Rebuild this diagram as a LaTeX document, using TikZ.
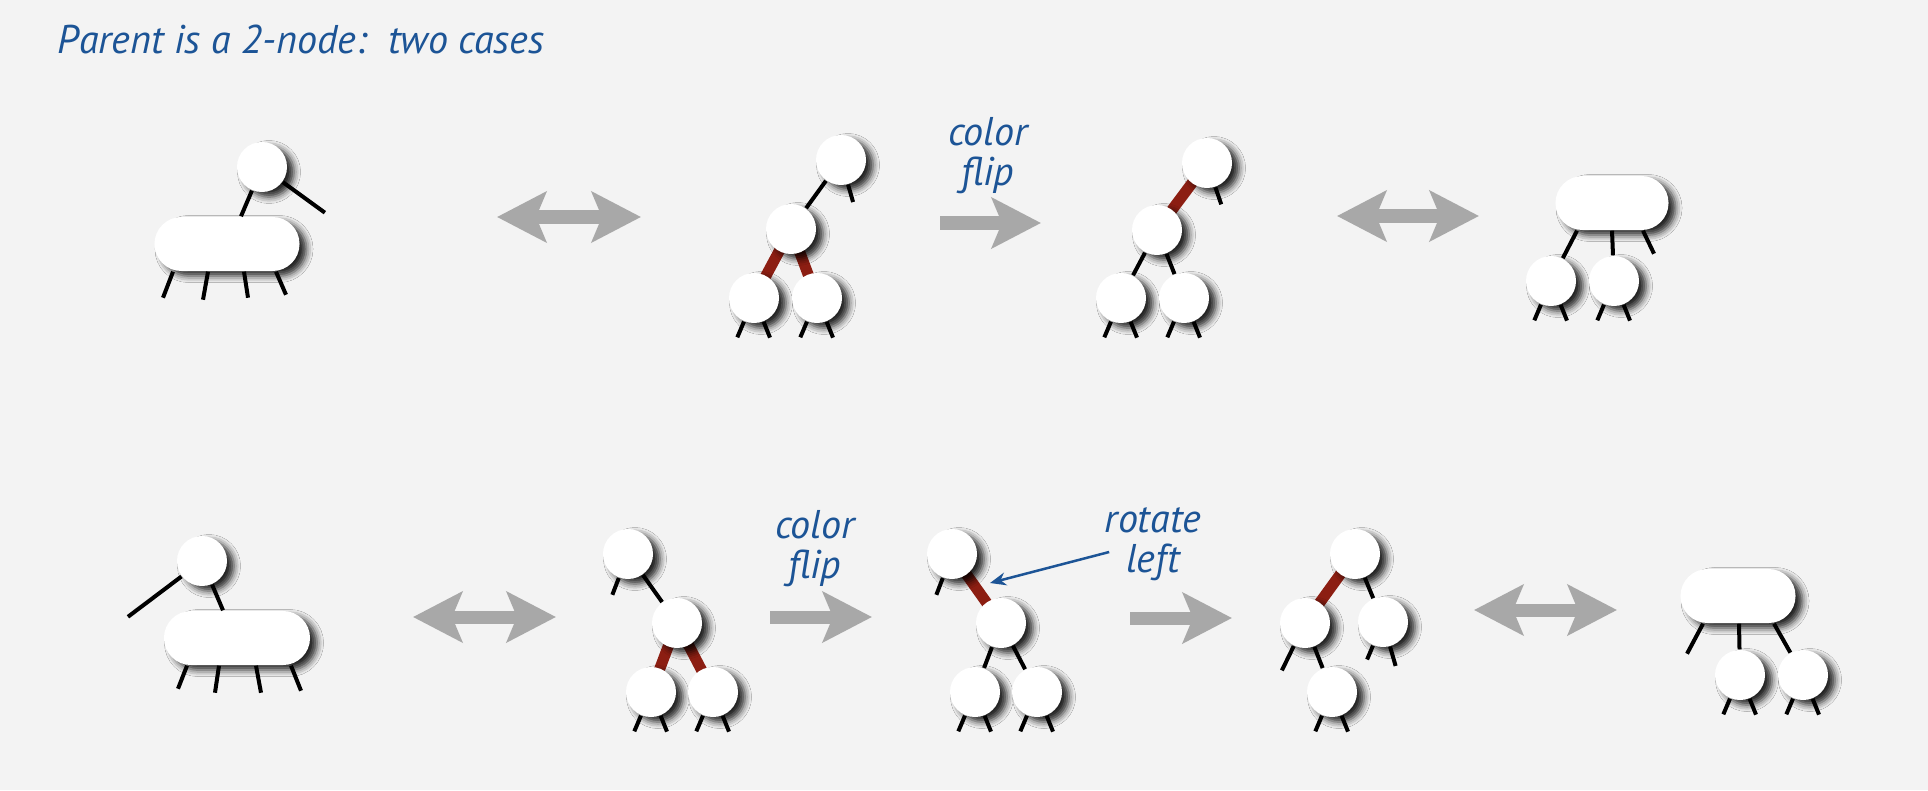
\documentclass[tikz,border=0pt]{standalone}
\usepackage{fontspec}
\setmainfont{PT Sans}
\usetikzlibrary{positioning,calc,arrows.meta,backgrounds,shadows.blur}
\definecolor{bgcol}{RGB}{243,243,243}
\definecolor{labelblue}{RGB}{28,84,150}
\definecolor{linkred}{RGB}{140,30,18}
\definecolor{flowgray}{RGB}{168,168,168}
\tikzset{
  softshadow/.style={blur shadow={shadow xshift=0.07cm, shadow yshift=-0.05cm, shadow blur radius=0.065cm, shadow opacity=85}},
  key/.style={shape=circle, fill=white, minimum size=0.5cm, inner sep=0pt, softshadow},
  pill/.style={shape=rectangle, rounded corners=0.27cm, fill=white, minimum height=0.54cm, inner sep=0pt, softshadow},
  leg/.style={line width=0.04cm, draw=black},
  redlink/.style={line width=0.11cm, draw=linkred},
  fliparrow/.style={line width=0.13cm, draw=flowgray, -{Stealth[length=0.49cm 0 0, width=0.5cm 0 0, inset=0.1cm 0 0]}},
  equivarrow/.style={line width=0.13cm, draw=flowgray, {Stealth[length=0.49cm 0 0, width=0.5cm 0 0, inset=0.1cm 0 0]}-{Stealth[length=0.49cm 0 0, width=0.5cm 0 0, inset=0.1cm 0 0]}},
  caption/.style={text=labelblue, font=\itshape\fontsize{11.4pt}{11.4pt}\selectfont, align=center, inner sep=0pt},
}
\begin{document}
\begin{tikzpicture}[x=0.01cm, y=0.01cm]
\useasboundingbox (0,0) rectangle (1928,790);
\node[caption, anchor=base west] (title) at (57,737) {Parent is a 2-node:\ \ two cases};

% first row
\node[key] (a1) at (262,623) {};
\node[pill, minimum width=1.45cm] (p1) at (227,546) {};
\node[key] (b1) at (841,630) {};
\node[key] (b2) at (791,561) {};
\node[key] (b3) at (754,492) {};
\node[key] (b4) at (817,492) {};
\node[key] (c1) at (1207,627) {};
\node[key] (c2) at (1157,560) {};
\node[key] (c3) at (1121,492) {};
\node[key] (c4) at (1184,492) {};
\node[pill, minimum width=1.13cm] (q1) at (1612,587) {};
\node[key] (d1) at (1551,509) {};
\node[key] (d2) at (1614,509) {};
\node[caption] (cf1) at (988,634) {color\\flip};

% second row
\node[key] (e1) at (202,229) {};
\node[pill, minimum width=1.46cm] (p2) at (237,152) {};
\node[key] (f1) at (628,236) {};
\node[key] (f2) at (677,167) {};
\node[key] (f3) at (651,98) {};
\node[key] (f4) at (713,98) {};
\node[key] (g1) at (952,236) {};
\node[key] (g2) at (1001,167) {};
\node[key] (g3) at (975,98) {};
\node[key] (g4) at (1037,98) {};
\node[key] (h1) at (1355,236) {};
\node[key] (h2) at (1305,167) {};
\node[key] (h3) at (1383,168) {};
\node[key] (h4) at (1332,98) {};
\node[pill, minimum width=1.15cm] (q2) at (1738,194) {};
\node[key] (k1) at (1740,115) {};
\node[key] (k2) at (1803,115) {};
\node[caption] (cf2) at (815,241) {color\\flip};
\node[caption] (rl) at (1153,246) {rotate\\left};

% red links behind the keys
\begin{scope}[on background layer]
\fill[bgcol] (0,0) rectangle (1928,790);
\draw[redlink] (b2.center) -- (b3.center);
\draw[redlink] (b2.center) -- (b4.center);
\draw[redlink] (c1.center) -- (c2.center);
\draw[redlink] (f2.center) -- (f3.center);
\draw[redlink] (f2.center) -- (f4.center);
\draw[redlink] (g1.center) -- (g2.center);
\draw[redlink] (h1.center) -- (h2.center);
\end{scope}

% black links
\draw[leg] (a1) -- ($(p1.north)+(14,0)$);
\draw[leg] (a1.-36) -- ++(-36:52);
\draw[leg] (b1) -- (b2);
\draw[leg] (c2) -- (c3);
\draw[leg] (c2) -- (c4);
\draw[leg] ($(q1.south)+(-35,0)$) -- (d1);
\draw[leg] (q1.south) -- (d2);
\draw[leg] (e1) -- ($(p2.north)+(-14,0)$);
\draw[leg] (e1.-143) -- ++(-143:67);
\draw[leg] (f1) -- (f2);
\draw[leg] (g2) -- (g3);
\draw[leg] (g2) -- (g4);
\draw[leg] (h1) -- (h3);
\draw[leg] (h2) -- (h4);
\draw[leg] ($(q2.south)+(1,0)$) -- (k1);
\draw[leg] ($(q2.south)+(36,0)$) -- (k2);

% stubs
\draw[leg] ($(p1.south)+(-54,0)$) -- ++(-10,-26);
\draw[leg] ($(p1.south)+(-19,0)$) -- ++(-5,-28);
\draw[leg] ($(p1.south)+(17,0)$) -- ++(4,-26);
\draw[leg] ($(p1.south)+(49,0)$) -- ++(10,-23);
\draw[leg] ($(p2.south)+(-50,0)$) -- ++(-9,-23);
\draw[leg] ($(p2.south)+(-18,0)$) -- ++(-4,-27);
\draw[leg] ($(p2.south)+(19,0)$) -- ++(5,-27);
\draw[leg] ($(p2.south)+(54,0)$) -- ++(10,-25);
\draw[leg] ($(q1.south)+(31,0)$) -- ++(11,-23);
\draw[leg] ($(q2.south)+(-35,0)$) -- ++(-16,-30);
\draw[leg] (b1.-74) -- ++(-74:18);
\draw[leg] (c1.-71) -- ++(-71:18);
\draw[leg] (f1.-111) -- ++(-111:18);
\draw[leg] (g1.-111) -- ++(-111:18);
\draw[leg] (h2.-116) -- ++(-116:27);
\draw[leg] (h3.-113) -- ++(-113:15);
\draw[leg] (h3.-74) -- ++(-74:20);
\draw[leg] (b3.-113) -- ++(-113:17);
\draw[leg] (b3.-68) -- ++(-68:17);
\draw[leg] (b4.-113) -- ++(-113:17);
\draw[leg] (b4.-68) -- ++(-68:17);
\draw[leg] (c3.-113) -- ++(-113:17);
\draw[leg] (c3.-68) -- ++(-68:17);
\draw[leg] (c4.-113) -- ++(-113:17);
\draw[leg] (c4.-68) -- ++(-68:17);
\draw[leg] (d1.-113) -- ++(-113:17);
\draw[leg] (d1.-68) -- ++(-68:17);
\draw[leg] (d2.-113) -- ++(-113:17);
\draw[leg] (d2.-68) -- ++(-68:17);
\draw[leg] (f3.-113) -- ++(-113:17);
\draw[leg] (f3.-68) -- ++(-68:17);
\draw[leg] (f4.-113) -- ++(-113:17);
\draw[leg] (f4.-68) -- ++(-68:17);
\draw[leg] (g3.-113) -- ++(-113:17);
\draw[leg] (g3.-68) -- ++(-68:17);
\draw[leg] (g4.-113) -- ++(-113:17);
\draw[leg] (g4.-68) -- ++(-68:17);
\draw[leg] (h4.-113) -- ++(-113:17);
\draw[leg] (h4.-68) -- ++(-68:17);
\draw[leg] (k1.-113) -- ++(-113:17);
\draw[leg] (k1.-68) -- ++(-68:17);
\draw[leg] (k2.-113) -- ++(-113:17);
\draw[leg] (k2.-68) -- ++(-68:17);

% gray arrows
\coordinate (m1a) at (497,573);
\coordinate (m1b) at (641,573);
\coordinate (m2a) at (940,567);
\coordinate (m2b) at (1041,567);
\coordinate (m3a) at (1337,574);
\coordinate (m3b) at (1479,574);
\coordinate (n1a) at (413,173);
\coordinate (n1b) at (556,173);
\coordinate (n2a) at (770,173);
\coordinate (n2b) at (872,173);
\coordinate (n3a) at (1130,172);
\coordinate (n3b) at (1232,172);
\coordinate (n4a) at (1474,180);
\coordinate (n4b) at (1617,180);
\draw[equivarrow] (m1a) -- (m1b);
\draw[fliparrow] (m2a) -- (m2b);
\draw[equivarrow] (m3a) -- (m3b);
\draw[equivarrow] (n1a) -- (n1b);
\draw[fliparrow] (n2a) -- (n2b);
\draw[fliparrow] (n3a) -- (n3b);
\draw[equivarrow] (n4a) -- (n4b);

% pointer to the rotated link
\coordinate (rlink) at (990,207);
\draw[line width=0.025cm, draw=labelblue, -{Stealth[length=0.16cm 0 0, width=0.13cm 0 0]}] ($(rl.west)+(5,-8)$) -- (rlink);
\end{tikzpicture}
\end{document}
